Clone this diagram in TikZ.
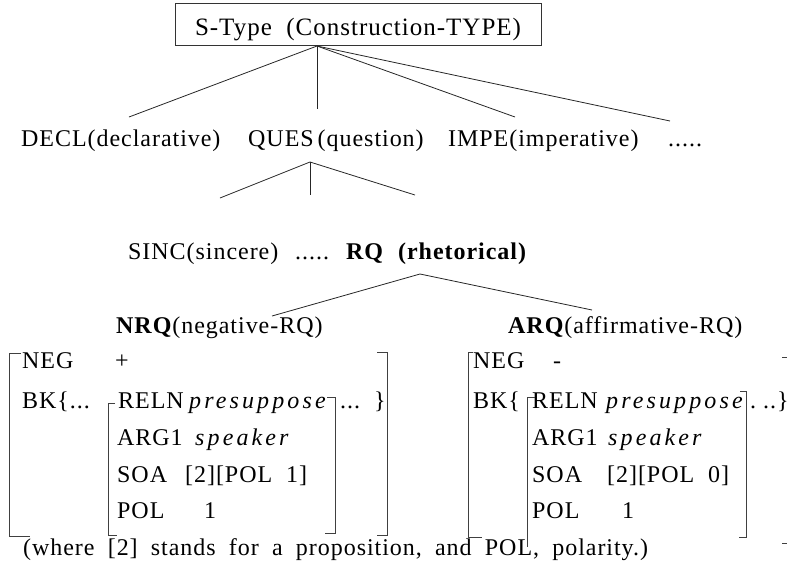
\documentclass[tikz,border=0pt]{standalone}
\usepackage{fontspec}
\setmainfont{Liberation Serif}[LetterSpace=4]
\newfontfamily\wideit{Liberation Serif}[LetterSpace=13]
\newfontfamily\notefam{Liberation Serif}[LetterSpace=4, WordSpace=1.9]
\begin{document}
\begin{tikzpicture}[x=1pt, y=-1pt,
  txt/.style={anchor=base west, inner sep=0pt, font=\fontsize{24}{28}\selectfont},
  branch/.style={draw=black!85, line width=0.8pt},
  brk/.style={draw=black!75, line width=0.9pt},
  headbox/.style={draw=black!80, line width=0.8pt, minimum width=366pt,
    minimum height=42pt, inner xsep=0pt, inner ysep=0pt,
    text height=27pt, text depth=5pt, font=\fontsize{25}{30}\selectfont}]
\useasboundingbox (0,0) rectangle (787,566);

% root of the hierarchy
\node[headbox] (stype) at (358,24) {S-Type\ \ (Construction-TYPE)};

% first level
\node[txt] (decl) at (21,146) {DECL(declarative)};
\node[txt] (ques) at (248,146) {QUES\,(question)};
\node[txt] (impe) at (448,146) {IMPE(imperative)};
\node[txt] (more1) at (668,146) {.....};

\coordinate (r1) at (317,46);
\coordinate (d1) at (129,117);
\coordinate (q1) at (317,109);
\coordinate (i1) at (515,117);
\coordinate (m1) at (670,121);
\draw[branch] (r1) -- (d1);
\draw[branch] (r1) -- (q1);
\draw[branch] (r1) -- (i1);
\draw[branch] (r1) -- (m1);

% second level (kinds of question)
\coordinate (r2) at (310,162);
\coordinate (s2) at (220,198);
\coordinate (v2) at (310,195);
\coordinate (t2) at (415,195);
\draw[branch] (r2) -- (s2);
\draw[branch] (r2) -- (v2);
\draw[branch] (r2) -- (t2);

\node[txt] (sinc) at (128,259) {SINC(sincere)};
\node[txt] (more2) at (295,259) {.....};
\node[txt] (rq) at (346,259) {\bfseries RQ};
\node[txt] (rhet) at (398,259) {\bfseries (rhetorical)};

% third level (kinds of rhetorical question)
\coordinate (r3) at (420,274);
\coordinate (n3) at (272,316);
\coordinate (a3) at (592,310);
\draw[branch] (r3) -- (n3);
\draw[branch] (r3) -- (a3);

\node[txt] (nrq) at (116,333) {\textbf{NRQ}(negative-RQ)};
\node[txt] (arq) at (508,333) {\textbf{ARQ}(affirmative-RQ)};

% feature structure for NRQ
\node[txt] (negL) at (22,368) {NEG};
\node[txt] (plus) at (115,368) {+};
\node[txt] (bkL) at (22,408) {BK\{...};
\node[txt] (relnL) at (118,408) {RELN};
\node[txt] (presL) at (189,408) {\wideit\itshape presuppose};
\node[txt] (tailL) at (340,408) {...\ \ \}};
\node[txt] (arg1L) at (117,445) {ARG1};
\node[txt] (spkL) at (195,445) {\wideit\itshape speaker};
\node[txt] (soaL) at (117,482) {SOA};
\node[txt] (valL) at (185,482) {[2][POL\ \ 1]};
\node[txt] (polL) at (117,518) {POL};
\node[txt] (oneL) at (204,518) {1};

\coordinate (oLt) at (9,353);  \coordinate (oLb) at (9,536);
\draw[brk] ([xshift=12pt]oLt) -- (oLt) -- (oLb) -- ([xshift=21pt]oLb);
\coordinate (oRt) at (387,352); \coordinate (oRb) at (387,535);
\draw[brk] ([xshift=-10pt]oRt) -- (oRt) -- (oRb) -- ([xshift=-10pt]oRb);
\coordinate (iLt) at (108,403); \coordinate (iLb) at (108,535);
\draw[brk] ([xshift=7pt]iLt) -- (iLt) -- (iLb) -- ([xshift=9pt]iLb);
\coordinate (iRt) at (335,397); \coordinate (iRb) at (335,533);
\draw[brk] ([xshift=-8pt]iRt) -- (iRt) -- (iRb) -- ([xshift=-10pt]iRb);

% feature structure for ARQ
\node[txt] (negR) at (473,368) {NEG};
\node[txt] (minus) at (553,368) {-};
\node[txt] (bkR) at (473,408) {BK\{};
\node[txt] (relnR) at (532,408) {RELN};
\node[txt] (presR) at (606,408) {\wideit\itshape presuppose};
\node[txt] (tailR) at (750,408) {.\ ..\}};
\node[txt] (arg1R) at (532,445) {ARG1};
\node[txt] (spkR) at (608,445) {\wideit\itshape speaker};
\node[txt] (soaR) at (532,482) {SOA};
\node[txt] (valR) at (607,482) {[2][POL\ \ 0]};
\node[txt] (polR) at (532,518) {POL};
\node[txt] (oneR) at (622,518) {1};

\coordinate (pLt) at (468,352); \coordinate (pLb) at (468,537);
\draw[brk] ([xshift=5pt]pLt) -- (pLt) -- (pLb) -- ([xshift=14pt]pLb);
\coordinate (qLt) at (527,397); \coordinate (qLb) at (527,547);
\draw[brk] ([xshift=8pt]qLt) -- (qLt) -- (qLb);
\coordinate (qRt) at (746,391); \coordinate (qRb) at (746,537);
\draw[brk] ([xshift=-6pt]qRt) -- (qRt) -- (qRb) -- ([xshift=-7pt]qRb);
\coordinate (pRt) at (782,357); \coordinate (pRb) at (782,543);
\draw[brk] (pRt) -- ([xshift=5pt]pRt);
\draw[brk] (pRb) -- ([xshift=5pt]pRb);

% explanatory note
\node[anchor=base west, inner sep=0pt, font=\fontsize{24}{28}\notefam] (note) at (23,555)
  {(where [2] stands for a proposition, and POL, polarity.)};
\end{tikzpicture}
\end{document}
